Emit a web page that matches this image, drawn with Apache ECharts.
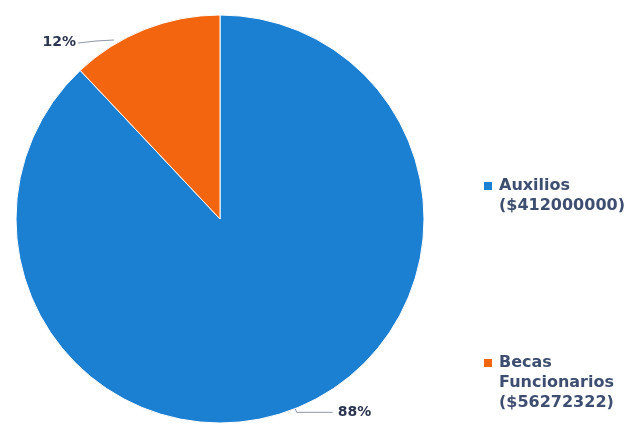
<!DOCTYPE html>
<html>
<head>
<meta charset="utf-8">
<script src="https://cdn.jsdelivr.net/npm/echarts@6/dist/echarts.min.js"></script>
<style>
  html, body { margin: 0; padding: 0; background: #ffffff; }
  #chart { width: 626px; height: 431px; }
</style>
</head>
<body>
<div id="chart"></div>
<script>
// Distribución de recursos: auxilios y becas a funcionarios
const categories = ['Auxilios', 'Becas Funcionarios'];
const amounts = [412000000, 56272322];
const legendLines = [
  ['Auxilios', '($412000000)'],
  ['Becas', 'Funcionarios', '($56272322)']
];
const sliceColors = ['#1b7fd2', '#f4650f'];

const FONT = '"DejaVu Sans", sans-serif';
const total = amounts.reduce((a, b) => a + b, 0);

const chart = echarts.init(document.getElementById('chart'), null, { renderer: 'canvas' });

const rich = {
  t: { fontFamily: FONT, fontSize: 16, fontWeight: 'bold', color: '#3e4e70', lineHeight: 20 },
  gap: { width: 7, lineHeight: 20 },
  ind: { width: 15, lineHeight: 20 }
};
categories.forEach((c, i) => {
  rich['sq' + i] = { width: 8, height: 8, backgroundColor: sliceColors[i] };
});

chart.setOption({
  animation: false,
  backgroundColor: '#ffffff',
  legend: {
    orient: 'vertical',
    left: 474,
    top: 173,
    itemGap: 141,
    icon: 'none',
    itemWidth: 0,
    itemHeight: 8,
    selectedMode: false,
    data: categories,
    formatter: name => {
      const i = categories.indexOf(name);
      const lines = legendLines[i];
      return lines.map((ln, k) =>
        (k === 0 ? `{sq${i}|}{gap|}` : '{ind|}') + `{t|${ln}}`
      ).join('\n');
    },
    textStyle: { rich: rich }
  },
  series: [{
    type: 'pie',
    center: [220, 219],
    radius: 204,
    startAngle: 90,
    clockwise: true,
    data: categories.map((c, i) => ({
      name: c,
      value: amounts[i],
      itemStyle: { color: sliceColors[i] }
    })),
    itemStyle: { borderColor: '#ffffff', borderWidth: 1 },
    label: {
      show: true,
      position: 'outside',
      formatter: p => Math.round(p.value / total * 100) + '%',
      fontFamily: FONT,
      fontSize: 14,
      fontWeight: 'bold',
      color: '#2b3550'
    },
    labelLine: {
      show: true,
      length: 4,
      length2: 36,
      lineStyle: { color: '#8f96a3', width: 1 }
    },
    labelLayout: params => {
      if (params.dataIndex === 1) {
        // small slice: label sits to the left of the top edge
        return {
          x: 76, y: 42, align: 'right', verticalAlign: 'middle',
          labelLinePoints: [[114, 40], [96, 41], [78, 43]]
        };
      }
      return {};
    },
    emphasis: { disabled: true }
  }]
});
</script>
</body>
</html>
